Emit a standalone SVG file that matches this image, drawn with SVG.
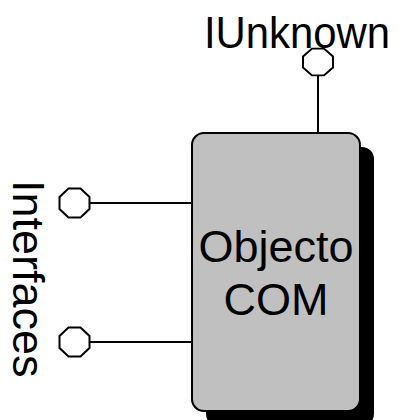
<svg xmlns="http://www.w3.org/2000/svg" width="401" height="420" viewBox="0 0 401 420">
<style>
.lbl{font-family:"Liberation Sans",Arial,sans-serif;font-size:45px;fill:#000}
.ln{stroke:#000;stroke-width:2;fill:none}
.port{fill:#fff;stroke:#000;stroke-width:2}
</style>
<defs>
<polygon id="oct" points="-6,-14.5 6,-14.5 15,-6 15,6 6,14.5 -6,14.5 -15,6 -15,-6"/>
</defs>
<rect width="401" height="420" fill="#fff"/>
<g id="connectors">
<line class="ln" x1="318" y1="76" x2="318" y2="134"/>
<line class="ln" x1="90" y1="203" x2="192" y2="203"/>
<line class="ln" x1="90" y1="342" x2="192" y2="342"/>
</g>
<g id="objecto-com">
<rect x="206" y="147" width="168" height="279" rx="12" fill="#000"/>
<rect x="192" y="133" width="168" height="278" rx="12" fill="#c0c0c0" stroke="#000" stroke-width="2"/>
<text class="lbl" x="276" y="262" text-anchor="middle">Objecto</text>
<text class="lbl" x="276" y="315" text-anchor="middle">COM</text>
</g>
<g id="iunknown">
<use href="#oct" class="port" transform="translate(318,62) scale(1,0.92)"/>
<text class="lbl" x="204" y="48" font-size="43" textLength="186" lengthAdjust="spacingAndGlyphs">IUnknown</text>
</g>
<g id="interface1">
<use href="#oct" class="port" transform="translate(74.5,203)"/>
</g>
<g id="interface2">
<use href="#oct" class="port" transform="translate(74.5,342)"/>
</g>
<g id="interfaces-label">
<text class="lbl" transform="translate(13,180) rotate(90)">Interfaces</text>
</g>
</svg>
